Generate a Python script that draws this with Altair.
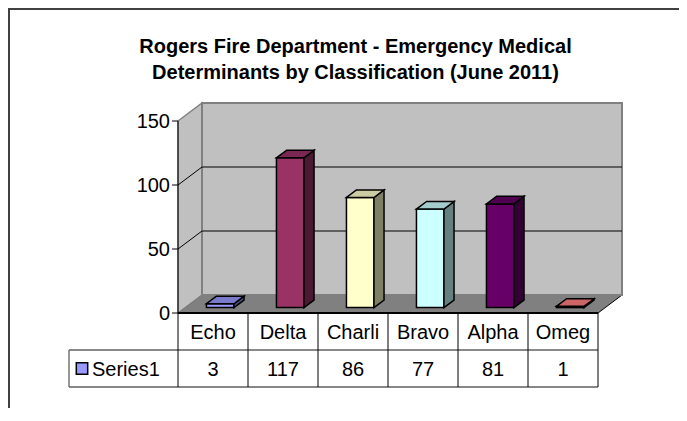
import altair as alt
import pandas as pd

# ---------------- data ----------------
categories = ["Echo", "Delta", "Charli", "Bravo", "Alpha", "Omeg"]
values = [3, 117, 86, 77, 81, 1]
bar_colors = ["#9999FF", "#993366", "#FFFFCC", "#CCFFFF", "#660066", "#FF8080"]
y_ticks = [0, 50, 100, 150]
series_name = "Series1"
title_lines = ["Rogers Fire Department - Emergency Medical",
               "Determinants by Classification (June 2011)"]

# ---------------- layout / style (pixels) ----------------
W, H = 442, 210            # plot area
PAD = {"left": 170, "top": 95, "right": 59, "bottom": 95}
PX_X = 70.0                # pixels per category slot
PX_Y = 1.28                # pixels per value unit
DEPTH_X, DEPTH_Y = 24, 18  # 3-D depth of the plot box
BAR_W = 27.5
BAR_FRONT = 0.3            # bar front position within depth
BAR_DEPTH = 0.42           # bar depth fraction
ROW_H = 37
LEG_W = 109
TICK = 6
FONT = "Liberation Sans"
FS = 20

n = len(categories)
top_val = max(y_ticks)
XMAX = W / PX_X
YMAX = H / PX_Y
dxu = DEPTH_X / PX_X
dyu = DEPTH_Y / PX_Y
row_u = ROW_H / PX_Y
leg_u = LEG_W / PX_X

xs = alt.Scale(domain=[0, XMAX], nice=False, zero=False)
ys = alt.Scale(domain=[0, YMAX], nice=False, zero=False)


def X(f, **kw):
    return alt.X(f, type="quantitative", scale=xs, axis=None, **kw)


def Y(f, **kw):
    return alt.Y(f, type="quantitative", scale=ys, axis=None, **kw)


def shade(h, k):
    h = h.lstrip("#")
    r, g, b = (int(h[i:i + 2], 16) for i in (0, 2, 4))
    return "#%02x%02x%02x" % (int(r * k), int(g * k), int(b * k))


# ---------------- walls / floor ----------------
floor = pd.DataFrame({"y": [0, dyu], "x": [0, dxu], "x2": [n, n + dxu]})
floor_l = alt.Chart(floor).mark_area(orient="horizontal", fill="#808080",
                                     stroke="#000000", strokeWidth=1).encode(
    y=Y("y"), x=X("x", stack=None), x2="x2")

side = pd.DataFrame({"x": [0, dxu], "y": [0, dyu], "y2": [top_val, top_val + dyu]})
side_l = alt.Chart(side).mark_area(orient="vertical", fill="#c0c0c0",
                                   stroke="#808080", strokeWidth=1.5).encode(
    x=X("x"), y=Y("y", stack=None), y2="y2")

back = pd.DataFrame({"x": [dxu], "x2": [n + dxu], "y": [dyu], "y2": [top_val + dyu]})
back_l = alt.Chart(back).mark_rect(fill="#c0c0c0", stroke="#808080", strokeWidth=2).encode(
    x=X("x"), x2="x2", y=Y("y"), y2="y2")

grid_vals = [v for v in y_ticks if 0 < v < top_val]
gback = pd.DataFrame({"x": [dxu] * len(grid_vals), "x2": [n + dxu] * len(grid_vals),
                      "y": [v + dyu for v in grid_vals]})
gback_l = alt.Chart(gback).mark_rule(color="#000000", strokeWidth=1).encode(
    x=X("x"), x2="x2", y=Y("y"))

gside_rows = []
for v in grid_vals:
    gside_rows.append({"g": v, "x": 0, "y": v})
    gside_rows.append({"g": v, "x": dxu, "y": v + dyu})
gside_l = alt.Chart(pd.DataFrame(gside_rows)).mark_line(color="#000000", strokeWidth=1).encode(
    x=X("x"), y=Y("y"), detail="g:N")

# ---------------- value axis (front left edge) ----------------
axis_df = pd.DataFrame({"x": [0], "y": [0], "y2": [top_val]})
axis_l = alt.Chart(axis_df).mark_rule(color="#000000", strokeWidth=1).encode(
    x=X("x"), y=Y("y"), y2="y2")
ticks_df = pd.DataFrame({"x": [-TICK / PX_X] * len(y_ticks), "x2": [0] * len(y_ticks),
                         "y": y_ticks})
ticks_l = alt.Chart(ticks_df).mark_rule(color="#000000", strokeWidth=1).encode(
    x=X("x"), x2="x2", y=Y("y"))
tlab_df = pd.DataFrame({"x": [-(TICK + 2) / PX_X] * len(y_ticks), "y": y_ticks,
                        "t": [str(v) for v in y_ticks]})
tlab_l = alt.Chart(tlab_df).mark_text(font=FONT, fontSize=FS, color="#000000", align="right",
                                      baseline="middle", dy=1).encode(
    x=X("x"), y=Y("y"), text="t:N")

# ---------------- bars ----------------
bw = BAR_W / PX_X
bx = BAR_FRONT * dxu
by = BAR_FRONT * dyu
gx = BAR_DEPTH * dxu
gy = BAR_DEPTH * dyu

front_rows, side_rows, top_rows = [], [], []
for i, (c, v, col) in enumerate(zip(categories, values, bar_colors)):
    xl = i + 0.5 - bw / 2 + bx
    xr = xl + bw
    front_rows.append({"cat": c, "x": xl, "x2": xr, "y": by, "y2": by + v, "fill": col})
    sc = shade(col, 0.5)
    side_rows.append({"cat": c, "x": xr, "y": by, "y2": by + v, "fill": sc})
    side_rows.append({"cat": c, "x": xr + gx, "y": by + gy, "y2": by + v + gy, "fill": sc})
    tc = shade(col, 0.8)
    top_rows.append({"cat": c, "y": by + v, "x": xl, "x2": xr, "fill": tc})
    top_rows.append({"cat": c, "y": by + v + gy, "x": xl + gx, "x2": xr + gx, "fill": tc})

bar_front = alt.Chart(pd.DataFrame(front_rows)).mark_rect(stroke="#000000", strokeWidth=1.5).encode(
    x=X("x"), x2="x2", y=Y("y"), y2="y2", fill=alt.Fill("fill:N", scale=None))
bar_side = alt.Chart(pd.DataFrame(side_rows)).mark_area(orient="vertical", stroke="#000000",
                                                         strokeWidth=1.5).encode(
    x=X("x"), y=Y("y", stack=None), y2="y2", fill=alt.Fill("fill:N", scale=None), detail="cat:N")
bar_top = alt.Chart(pd.DataFrame(top_rows)).mark_area(orient="horizontal", stroke="#000000",
                                                       strokeWidth=1.5).encode(
    y=Y("y"), x=X("x", stack=None), x2="x2", fill=alt.Fill("fill:N", scale=None), detail="cat:N")

# ---------------- data table ----------------
hrules = pd.DataFrame({"x": [-leg_u, -leg_u], "x2": [n, n], "y": [-row_u, -2 * row_u]})
hrule_l = alt.Chart(hrules).mark_rule(color="#606060", strokeWidth=1.3).encode(
    x=X("x"), x2="x2", y=Y("y"))
top_rule = pd.DataFrame({"x": [0], "x2": [n], "y": [0]})
top_rule_l = alt.Chart(top_rule).mark_rule(color="#000000", strokeWidth=2).encode(
    x=X("x"), x2="x2", y=Y("y"))
vrules = pd.DataFrame({"x": list(range(n + 1)), "y": [0] * (n + 1), "y2": [-2 * row_u] * (n + 1)})
vrule_l = alt.Chart(vrules).mark_rule(color="#000000", strokeWidth=1).encode(
    x=X("x"), y=Y("y"), y2="y2")
leg_rule = pd.DataFrame({"x": [-leg_u], "y": [-row_u], "y2": [-2 * row_u]})
leg_rule_l = alt.Chart(leg_rule).mark_rule(color="#606060", strokeWidth=1.3).encode(
    x=X("x"), y=Y("y"), y2="y2")

hdr = pd.DataFrame({"x": [i + 0.5 for i in range(n)], "y": [-row_u / 2] * n, "t": categories})
hdr_l = alt.Chart(hdr).mark_text(font=FONT, fontSize=FS, color="#000000", baseline="middle",
                                 align="center", dy=1).encode(x=X("x"), y=Y("y"), text="t:N")
vals = pd.DataFrame({"x": [i + 0.5 for i in range(n)], "y": [-1.5 * row_u] * n,
                     "t": [str(v) for v in values]})
vals_l = alt.Chart(vals).mark_text(font=FONT, fontSize=FS, color="#000000", baseline="middle",
                                   align="center", dy=1).encode(x=X("x"), y=Y("y"), text="t:N")

sw = pd.DataFrame({"x": [-leg_u + 13 / PX_X], "y": [-1.5 * row_u]})
sw_l = alt.Chart(sw).mark_square(size=130, fill=bar_colors[0], stroke="#000000", strokeWidth=1.5,
                                 opacity=1).encode(x=X("x"), y=Y("y"))
legt = pd.DataFrame({"x": [-leg_u + 23 / PX_X], "y": [-1.5 * row_u], "t": [series_name]})
legt_l = alt.Chart(legt).mark_text(font=FONT, fontSize=FS, color="#000000", baseline="middle",
                                   align="left", dy=1).encode(x=X("x"), y=Y("y"), text="t:N")

# ---------------- title ----------------
ttl = pd.DataFrame({"x": [177.5 / PX_X] * 2,
                    "y": [YMAX + 50 / PX_Y, YMAX + 24 / PX_Y],
                    "t": title_lines})
ttl_l = alt.Chart(ttl).mark_text(font=FONT, fontSize=FS, fontWeight="bold", color="#000000",
                                 baseline="alphabetic", align="center").encode(
    x=X("x"), y=Y("y"), text="t:N")

# ---------------- outer frame ----------------
frame_df = pd.DataFrame({"k": [0]})
frame_left = alt.Chart(frame_df).mark_rule(color="#404040", strokeWidth=2).encode(
    x=alt.value(-PAD["left"] + 1), y=alt.value(-PAD["top"] + 1), y2=alt.value(H + PAD["bottom"]))
frame_top = alt.Chart(frame_df).mark_rule(color="#404040", strokeWidth=2).encode(
    x=alt.value(-PAD["left"]), x2=alt.value(W + PAD["right"]), y=alt.value(-PAD["top"] + 1))

chart = alt.layer(
    floor_l, side_l, back_l, gback_l, gside_l, axis_l, ticks_l, tlab_l,
    bar_front, bar_side, bar_top,
    hrule_l, leg_rule_l, vrule_l, top_rule_l, hdr_l, vals_l, sw_l, legt_l,
    ttl_l, frame_left, frame_top,
).properties(
    width=W, height=H,
    autosize=alt.AutoSizeParams(type="none"),
    padding=PAD,
    background="#ffffff",
).configure_view(stroke=None)

chart.save("out.html", embed_options={"renderer": "svg", "actions": False})
